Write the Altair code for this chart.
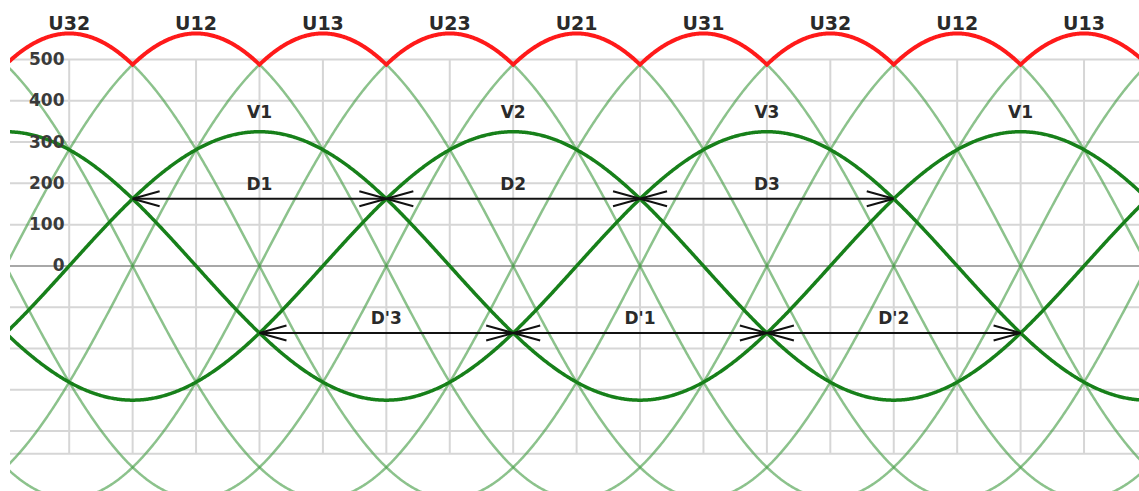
import altair as alt
import numpy as np
import pandas as pd

# Three-phase supply: phase and line-to-line amplitudes (V)
PHASE_PEAK = 325
LINE_PEAK = 563

# Phase voltages and the angle (deg) of each positive peak
PHASE_NAMES = ["V1", "V2", "V3"]
PHASE_PEAK_DEG = [90, 210, 330]

# Line-to-line voltages and the angle (deg) of each positive peak
LINE_NAMES = ["U32", "U12", "U13", "U23", "U21", "U31"]
LINE_PEAK_DEG = [0, 60, 120, 180, 240, 300]

# Labels of the rectified envelope arches
ENVELOPE_LABELS = ["U32", "U12", "U13", "U23", "U21", "U31", "U32", "U12", "U13"]
ENVELOPE_LABEL_DEG = [0, 60, 120, 180, 240, 300, 360, 420, 480]

# Phase labels above the phase peaks
PHASE_LABELS = ["V1", "V2", "V3", "V1"]
PHASE_LABEL_DEG = [90, 210, 330, 450]

# Diode conduction intervals (deg) and the level they are drawn at
ARROW_LABELS = ["D1", "D2", "D3", "D'3", "D'1", "D'2"]
ARROW_START = [30, 150, 270, 90, 210, 330]
ARROW_END = [150, 270, 390, 210, 330, 450]
ARROW_SIGN = [1, 1, 1, -1, -1, -1]

# Axis ticks and grid
Y_TICKS = [0, 100, 200, 300, 400, 500]
H_GRID = [500, 400, 300, 200, 100, -100, -200, -300, -400]
GRID_TOP = 500
GRID_BOTTOM = -455
V_GRID = list(range(0, 481, 30))
X_DOMAIN = [-28, 506]
Y_DOMAIN = [-545, 644]

FONT = "DejaVu Sans"

deg = np.arange(-30, 510.01, 0.5)

line_rows = []
line_vals = []
for name, pk in zip(LINE_NAMES, LINE_PEAK_DEG):
    v = LINE_PEAK * np.cos(np.radians(deg - pk))
    line_vals.append(v)
    line_rows.append(pd.DataFrame({"deg": deg, "value": v, "series": name}))
lines_df = pd.concat(line_rows, ignore_index=True)

envelope_df = pd.DataFrame({"deg": deg, "value": np.max(np.vstack(line_vals), axis=0)})

phase_rows = []
for name, pk in zip(PHASE_NAMES, PHASE_PEAK_DEG):
    v = PHASE_PEAK * np.cos(np.radians(deg - pk))
    phase_rows.append(pd.DataFrame({"deg": deg, "value": v, "series": name}))
phases_df = pd.concat(phase_rows, ignore_index=True)

arrows_df = pd.DataFrame({
    "label": ARROW_LABELS,
    "start": ARROW_START,
    "end": ARROW_END,
    "level": [s * PHASE_PEAK / 2 for s in ARROW_SIGN],
})
arrows_df["mid"] = (arrows_df["start"] + arrows_df["end"]) / 2

env_labels_df = pd.DataFrame({"label": ENVELOPE_LABELS, "deg": ENVELOPE_LABEL_DEG,
                              "value": [LINE_PEAK] * len(ENVELOPE_LABELS)})
phase_labels_df = pd.DataFrame({"label": PHASE_LABELS, "deg": PHASE_LABEL_DEG,
                                "value": [PHASE_PEAK] * len(PHASE_LABELS)})

hgrid_df = pd.DataFrame({"value": H_GRID + [GRID_BOTTOM], "x0": X_DOMAIN[0], "x1": X_DOMAIN[1]})
zero_df = pd.DataFrame({"value": [0], "x0": X_DOMAIN[0], "x1": X_DOMAIN[1]})
vgrid_df = pd.DataFrame({"deg": V_GRID, "y0": GRID_BOTTOM, "y1": GRID_TOP})

xscale = alt.Scale(domain=X_DOMAIN, nice=False, zero=False)
yscale = alt.Scale(domain=Y_DOMAIN, nice=False, zero=False)
# value labels sit inside the plot, over the grid
yaxis = alt.Axis(values=Y_TICKS, orient="left", offset=-55, domain=False, ticks=False,
                 grid=False, labelPadding=1, labelFont=FONT, labelFontSize=17,
                 labelFontWeight="bold", labelColor="#3a3a3a", title=None, zindex=1)


def X(field):
    return alt.X(field, type="quantitative", scale=xscale, axis=None)


def Y(field):
    return alt.Y(field, type="quantitative", scale=yscale, axis=yaxis)


hgrid = alt.Chart(hgrid_df).mark_rule(color="#d6d6d6", strokeWidth=2).encode(
    y=Y("value"), x=X("x0"), x2="x1")
zero_line = alt.Chart(zero_df).mark_rule(color="#a8a8a8", strokeWidth=2).encode(
    y=Y("value"), x=X("x0"), x2="x1")
vgrid = alt.Chart(vgrid_df).mark_rule(color="#d6d6d6", strokeWidth=2).encode(
    x=X("deg"), y=Y("y0"), y2="y1")

line_layer = alt.Chart(lines_df).mark_line(
    color="#3f9a3f", strokeWidth=2.5, opacity=0.6, clip=True
).encode(x=X("deg"), y=Y("value"), detail="series:N")

phase_layer = alt.Chart(phases_df).mark_line(
    color="#17801a", strokeWidth=3.5, clip=True
).encode(x=X("deg"), y=Y("value"), detail="series:N")

envelope_layer = alt.Chart(envelope_df).mark_line(
    color="#ff1a1a", strokeWidth=4, clip=True
).encode(x=X("deg"), y=Y("value"))

arrow_shaft = alt.Chart(arrows_df).mark_rule(color="#111111", strokeWidth=2).encode(
    x=X("start"), x2="end", y=Y("level"))
arrow_left = alt.Chart(arrows_df).mark_point(
    shape="M0,0L2.7,-0.75M0,0L2.7,0.75", size=400, filled=False,
    stroke="#111111", strokeWidth=2, opacity=1
).encode(x=X("start"), y=Y("level"))
arrow_right = alt.Chart(arrows_df).mark_point(
    shape="M0,0L-2.7,-0.75M0,0L-2.7,0.75", size=400, filled=False,
    stroke="#111111", strokeWidth=2, opacity=1
).encode(x=X("end"), y=Y("level"))

arrow_text = alt.Chart(arrows_df).mark_text(
    font=FONT, fontSize=17, fontWeight="bold", color="#2a2a2a", dy=-14, baseline="middle"
).encode(x=X("mid"), y=Y("level"), text="label:N")

env_text = alt.Chart(env_labels_df).mark_text(
    font=FONT, fontSize=19, fontWeight="bold", color="#2a2a2a", dy=-9, baseline="middle"
).encode(x=X("deg"), y=Y("value"), text="label:N")

phase_text = alt.Chart(phase_labels_df).mark_text(
    font=FONT, fontSize=17, fontWeight="bold", color="#2a2a2a", dy=-19, baseline="middle"
).encode(x=X("deg"), y=Y("value"), text="label:N")

chart = alt.layer(
    hgrid, vgrid, zero_line, line_layer, phase_layer, envelope_layer,
    arrow_shaft, arrow_left, arrow_right, arrow_text, env_text, phase_text
).properties(
    width=1129, height=491,
    padding={"left": 10, "top": 0, "right": 0, "bottom": 0},
    autosize=alt.AutoSizeParams(type="none"),
    background="white",
).configure_view(strokeWidth=0)

chart.save("out.html", embed_options={"renderer": "svg", "actions": False})
